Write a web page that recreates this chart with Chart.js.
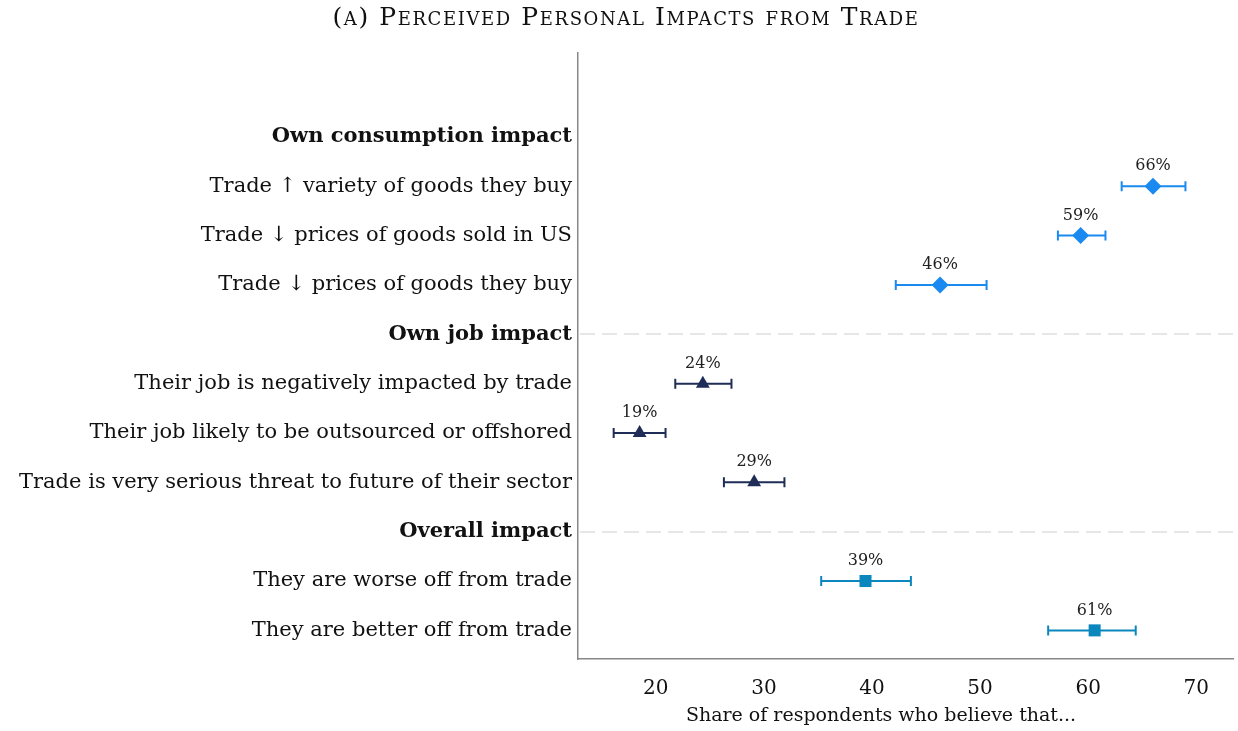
<!DOCTYPE html>
<html>
<head>
<meta charset="utf-8">
<script src="https://cdn.jsdelivr.net/npm/chart.js@4/dist/chart.umd.min.js"></script>
<style>
  html, body { margin: 0; padding: 0; background: #ffffff; }
  #wrap { width: 1238px; height: 731px; position: relative; }
</style>
</head>
<body>
<div id="wrap"><canvas id="c" width="1238" height="731"></canvas></div>
<script>
// ---- data ----
const titleText = "(a) Perceived Personal Impacts from Trade";
const xTitle = "Share of respondents who believe that...";
const rowLabels = [
  "Own consumption impact",
  "Trade \u2191 variety of goods they buy",
  "Trade \u2193 prices of goods sold in US",
  "Trade \u2193 prices of goods they buy",
  "Own job impact",
  "Their job is negatively impacted by trade",
  "Their job likely to be outsourced or offshored",
  "Trade is very serious threat to future of their sector",
  "Overall impact",
  "They are worse off from trade",
  "They are better off from trade"
];
const headerRows = [0, 4, 8];
const xTicks = [20, 30, 40, 50, 60, 70];

// consumption group (rows 1-3)
const consRows = [1, 2, 3];
const consValues = [66.0, 59.3, 46.3];
const consLow = [63.1, 57.2, 42.2];
const consHigh = [69.0, 61.6, 50.6];
const consLabels = ["66%", "59%", "46%"];

// job group (rows 5-7)
const jobRows = [5, 6, 7];
const jobValues = [24.35, 18.5, 29.1];
const jobLow = [21.8, 16.1, 26.3];
const jobHigh = [27.0, 20.9, 31.9];
const jobLabels = ["24%", "19%", "29%"];

// overall group (rows 9-10)
const overRows = [9, 10];
const overValues = [39.4, 60.6];
const overLow = [35.3, 56.3];
const overHigh = [43.6, 64.4];
const overLabels = ["39%", "61%"];

const SERIF = "'DejaVu Serif', 'Liberation Serif', serif";
const C_CONS = "#1a8af0";
const C_JOB = "#1f2d57";
const C_OVER = "#0b87be";

function mk(rows, vals, lows, highs, labels, color, style, radius) {
  return {
    data: rows.map((r, i) => ({ x: vals[i], y: r, lo: lows[i], hi: highs[i], lab: labels[i] })),
    pointStyle: style,
    pointRadius: radius,
    pointHoverRadius: radius,
    backgroundColor: color,
    borderColor: color,
    borderWidth: 0,
    showLine: false
  };
}

const errorBarPlugin = {
  id: 'errbars',
  beforeDatasetsDraw(chart) {
    const ctx = chart.ctx, xs = chart.scales.x, ys = chart.scales.y;
    const ca = chart.chartArea;
    ctx.save();
    ctx.strokeStyle = '#e6e6e6';
    ctx.lineWidth = 2;
    ctx.setLineDash([15, 7]);
    headerRows.slice(1).forEach(r => {
      const y = Math.round(ys.getPixelForValue(r));
      ctx.beginPath();
      ctx.moveTo(ca.left + 2, y);
      ctx.lineTo(ca.right, y);
      ctx.stroke();
    });
    ctx.restore();
    chart.data.datasets.forEach(ds => {
      ctx.save();
      ctx.strokeStyle = ds.borderColor;
      ctx.lineWidth = 2;
      ds.data.forEach(p => {
        const y = ys.getPixelForValue(p.y);
        const x1 = xs.getPixelForValue(p.lo), x2 = xs.getPixelForValue(p.hi);
        ctx.beginPath();
        ctx.moveTo(x1, y); ctx.lineTo(x2, y);
        ctx.moveTo(x1, y - 5); ctx.lineTo(x1, y + 5);
        ctx.moveTo(x2, y - 5); ctx.lineTo(x2, y + 5);
        ctx.stroke();
      });
      ctx.restore();
    });
  },
  afterDatasetsDraw(chart) {
    const ctx = chart.ctx, xs = chart.scales.x, ys = chart.scales.y;
    ctx.save();
    ctx.fillStyle = '#222';
    ctx.font = "16px " + SERIF;
    ctx.textAlign = 'center';
    ctx.textBaseline = 'middle';
    chart.data.datasets.forEach(ds => {
      ds.data.forEach(p => {
        ctx.fillText(p.lab, xs.getPixelForValue(p.x), ys.getPixelForValue(p.y) - 20);
      });
    });
    ctx.restore();
  },
  afterDraw(chart) {
    const ctx = chart.ctx;
    ctx.save();
    ctx.fillStyle = '#111';
    ctx.font = "25px " + SERIF;
    try { ctx.fontVariantCaps = 'small-caps'; } catch (e) {}
    try { ctx.letterSpacing = '1.6px'; } catch (e) {}
    ctx.textAlign = 'center';
    ctx.textBaseline = 'middle';
    ctx.fillText(titleText, 626, 18);
    ctx.restore();
    // x-axis title
    ctx.save();
    ctx.fillStyle = '#111';
    ctx.font = "19px " + SERIF;
    ctx.textAlign = 'center';
    ctx.textBaseline = 'middle';
    ctx.fillText(xTitle, 881, 716);
    ctx.restore();
  }
};

new Chart(document.getElementById('c'), {
  type: 'scatter',
  plugins: [errorBarPlugin],
  data: {
    datasets: [
      mk(consRows, consValues, consLow, consHigh, consLabels, C_CONS, 'rectRot', 8.5),
      mk(jobRows, jobValues, jobLow, jobHigh, jobLabels, C_JOB, 'triangle', 8),
      mk(overRows, overValues, overLow, overHigh, overLabels, C_OVER, 'rect', 8.5)
    ]
  },
  options: {
    responsive: false,
    animation: false,
    layout: { autoPadding: false, padding: { top: 53, right: 5, left: 0, bottom: 0 } },
    plugins: {
      legend: { display: false },
      tooltip: { enabled: false },
      title: { display: false }
    },
    scales: {
      x: {
        type: 'linear',
        min: 12.8,
        max: 73.4,
        afterBuildTicks: s => { s.ticks = xTicks.map(v => ({ value: v })); },
        afterFit: s => { s.height = 72; },
        grid: { display: false, drawTicks: false },
        border: { display: true, color: '#888888', width: 1.5 },
        ticks: {
          padding: 18,
          color: '#111',
          font: { family: SERIF, size: 20 }
        }
      },
      y: {
        type: 'linear',
        reverse: true,
        min: -1.7,
        max: 10.58,
        afterBuildTicks: s => { s.ticks = rowLabels.map((_, i) => ({ value: i })); },
        afterFit: s => { s.width = 578; },
        grid: { display: false, drawTicks: false },
        border: { display: true, color: '#888888', width: 1.5 },
        ticks: {
          padding: 6,
          color: '#111',
          autoSkip: false,
          callback: v => rowLabels[v],
          font: ctx => ({
            family: SERIF,
            size: 21,
            weight: headerRows.includes(ctx.tick && ctx.tick.value) ? 'bold' : 'normal'
          })
        }
      }
    }
  }
});
</script>
</body>
</html>
